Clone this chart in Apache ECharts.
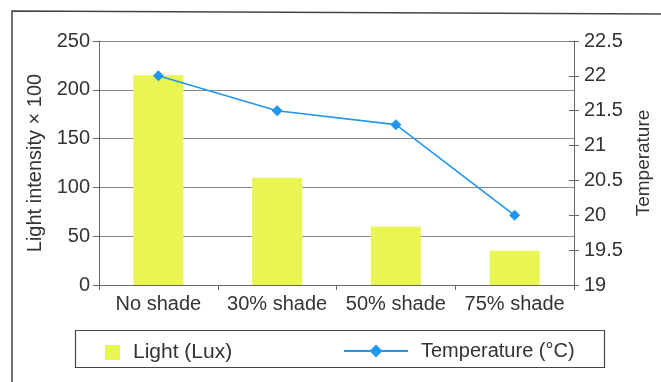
<!DOCTYPE html>
<html>
<head>
<meta charset="utf-8">
<script src="https://cdn.jsdelivr.net/npm/echarts@6/dist/echarts.min.js"></script>
<style>
  html, body { margin: 0; padding: 0; background: #ffffff; }
  #chart { width: 661px; height: 382px; }
</style>
</head>
<body>
<div id="chart"></div>
<script>
// Shade treatments along the x axis
const categories = ['No shade', '30% shade', '50% shade', '75% shade'];
// Light intensity (Lux, × 100) per treatment
const lightValues = [215, 110, 60, 35];
// Air temperature (°C) per treatment
const temperatureValues = [22, 21.5, 21.3, 20];

const TEXT = '#333333';
const AXIS = '#666666';
const FONT = 'Liberation Sans, Arial, sans-serif';

const chart = echarts.init(document.getElementById('chart'), null, { renderer: 'canvas' });

chart.setOption({
  backgroundColor: '#ffffff',
  animation: false,
  textStyle: { fontFamily: FONT, color: TEXT },
  grid: { left: 99, right: 87, top: 41, bottom: 97, containLabel: false },
  legend: [
    {
      data: ['Light (Lux)'],
      left: 100, top: 337,
      itemWidth: 15, itemHeight: 15,
      icon: 'rect',
      textStyle: { fontSize: 21, color: TEXT, fontFamily: FONT, padding: [0, 0, 0, 8] }
    },
    {
      data: ['Temperature (°C)'],
      left: 338, top: 336,
      itemWidth: 64, itemHeight: 16,
      textStyle: { fontSize: 20, color: TEXT, fontFamily: FONT, padding: [0, 0, 0, 8] }
    }
  ],
  xAxis: {
    type: 'category',
    data: categories,
    boundaryGap: true,
    axisLine: { lineStyle: { color: AXIS, width: 1 } },
    axisTick: { show: true, length: 5, lineStyle: { color: AXIS } },
    axisLabel: { interval: 0, fontSize: 20, color: TEXT, margin: 9, fontFamily: FONT }
  },
  yAxis: [
    {
      type: 'value',
      min: 0, max: 250, interval: 50,
      name: 'Light intensity × 100',
      nameLocation: 'middle',
      nameRotate: 90,
      nameGap: 49,
      nameTextStyle: { fontSize: 20, color: TEXT, fontFamily: FONT },
      axisLine: { show: true, lineStyle: { color: AXIS } },
      axisTick: { show: true, length: 6, lineStyle: { color: AXIS } },
      axisLabel: { fontSize: 20, color: TEXT, margin: 9, fontFamily: FONT },
      splitLine: { show: true, lineStyle: { color: '#8a8a8a', width: 1 } }
    },
    {
      type: 'value',
      position: 'right',
      min: 19, max: 22.5, interval: 0.5,
      name: 'Temperature',
      nameLocation: 'middle',
      nameRotate: 90,
      nameGap: 55,
      nameTextStyle: { fontSize: 19, color: TEXT, fontFamily: FONT },
      axisLine: { show: true, lineStyle: { color: AXIS } },
      axisTick: { show: true, length: 5, lineStyle: { color: AXIS } },
      axisLabel: { fontSize: 20, color: TEXT, margin: 10, fontFamily: FONT },
      splitLine: { show: false }
    },
    {
      // inner half of the crossing ticks on the temperature axis
      type: 'value',
      position: 'right',
      min: 19, max: 22.5, interval: 0.5,
      axisLine: { show: false },
      axisTick: { show: true, inside: true, length: 5, lineStyle: { color: AXIS } },
      axisLabel: { show: false },
      splitLine: { show: false }
    }
  ],
  series: [
    {
      name: 'Light (Lux)',
      type: 'bar',
      yAxisIndex: 0,
      data: lightValues,
      barWidth: 50,
      itemStyle: { color: '#e8f552' }
    },
    {
      name: 'Temperature (°C)',
      type: 'line',
      yAxisIndex: 1,
      data: temperatureValues,
      symbol: 'diamond',
      symbolSize: 11,
      lineStyle: { color: '#2196f0', width: 1.6 },
      itemStyle: { color: '#2196f0' }
    }
  ],
  graphic: [
    {
      type: 'polyline',
      shape: { points: [[12, 382], [12, 11], [661, 14]] },
      style: { stroke: '#444444', lineWidth: 1.5, fill: null },
      silent: true
    },
    {
      type: 'rect',
      shape: { x: 75.5, y: 330.5, width: 529, height: 37 },
      style: { stroke: '#444444', lineWidth: 1.2, fill: null },
      silent: true
    }
  ]
});
</script>
</body>
</html>
